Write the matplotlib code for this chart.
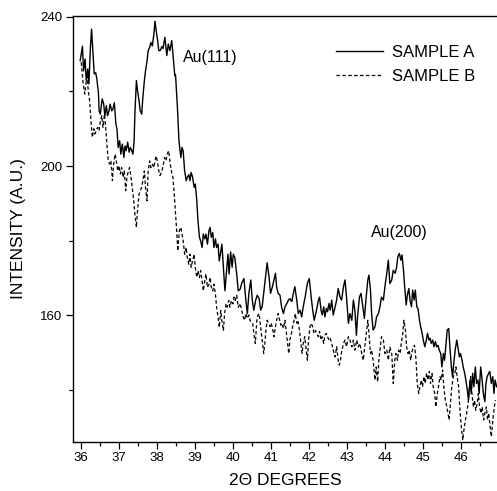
import matplotlib
matplotlib.use("Agg")
import matplotlib.pyplot as plt
from matplotlib.ticker import MultipleLocator

plt.rcParams["font.family"] = ["Liberation Sans", "DejaVu Sans"]

# sample A (solid), 2theta / intensity
a_x = [35.97, 36.03, 36.06, 36.10, 36.13, 36.17, 36.20, 36.24, 36.27, 36.31, 36.34, 36.38,
       36.41, 36.45, 36.47, 36.50, 36.55, 36.59, 36.62, 36.66, 36.69, 36.73, 36.76, 36.80,
       36.83, 36.87, 36.91, 36.94, 36.97, 37.01, 37.04, 37.08, 37.12, 37.15, 37.18, 37.22,
       37.26, 37.29, 37.33, 37.36, 37.39, 37.41, 37.45, 37.48, 37.52, 37.55, 37.59, 37.62,
       37.66, 37.69, 37.73, 37.76, 37.80, 37.83, 37.87, 37.91, 37.94, 37.97, 38.01, 38.04,
       38.08, 38.12, 38.15, 38.20, 38.25, 38.29, 38.33, 38.38, 38.42, 38.46, 38.48, 38.53,
       38.57, 38.62, 38.65, 38.68, 38.72, 38.76, 38.79, 38.83, 38.86, 38.89, 38.93, 38.97,
       39.00, 39.04, 39.07, 39.11, 39.14, 39.18, 39.21, 39.25, 39.28, 39.32, 39.36, 39.39,
       39.42, 39.46, 39.49, 39.53, 39.56, 39.60, 39.63, 39.67, 39.70, 39.74, 39.78, 39.83,
       39.86, 39.89, 39.93, 39.97, 40.00, 40.04, 40.09, 40.13, 40.18, 40.22, 40.28, 40.33,
       40.37, 40.41, 40.46, 40.50, 40.54, 40.59, 40.63, 40.68, 40.72, 40.76, 40.81, 40.85,
       40.89, 40.94, 40.98, 41.03, 41.07, 41.11, 41.14, 41.18, 41.23, 41.27, 41.32, 41.36,
       41.41, 41.45, 41.49, 41.54, 41.58, 41.62, 41.67, 41.71, 41.76, 41.80, 41.84, 41.89,
       41.95, 42.00, 42.05, 42.09, 42.13, 42.19, 42.24, 42.27, 42.31, 42.34, 42.38, 42.41,
       42.45, 42.48, 42.52, 42.55, 42.59, 42.63, 42.68, 42.72, 42.76, 42.81, 42.85, 42.90,
       42.94, 42.98, 43.03, 43.07, 43.12, 43.16, 43.20, 43.24, 43.27, 43.32, 43.36, 43.41,
       43.45, 43.49, 43.54, 43.57, 43.61, 43.64, 43.68, 43.73, 43.77, 43.82, 43.86, 43.90,
       43.95, 43.99, 44.04, 44.08, 44.12, 44.17, 44.21, 44.26, 44.30, 44.33, 44.37, 44.41,
       44.44, 44.48, 44.51, 44.55, 44.58, 44.62, 44.65, 44.69, 44.72, 44.76, 44.79, 44.83,
       44.86, 44.90, 44.93, 44.97, 45.00, 45.04, 45.08, 45.11, 45.15, 45.18, 45.21, 45.25,
       45.28, 45.32, 45.35, 45.39, 45.42, 45.46, 45.49, 45.53, 45.56, 45.60, 45.63, 45.67,
       45.70, 45.74, 45.77, 45.81, 45.84, 45.88, 45.91, 45.95, 45.98, 46.02, 46.05, 46.09,
       46.12, 46.16, 46.19, 46.23, 46.26, 46.30, 46.33, 46.37, 46.40, 46.44, 46.47, 46.51,
       46.54, 46.58, 46.62, 46.65, 46.68, 46.72, 46.75, 46.79, 46.83, 46.86, 46.89, 46.93]
a_y = [228.2, 232.1, 225.5, 228.7, 222.9, 226.0, 222.0, 231.8, 236.7, 230.0, 224.7, 225.0,
       223.3, 219.7, 214.8, 213.9, 218.0, 216.6, 213.5, 216.2, 213.5, 214.8, 216.6, 214.8,
       215.2, 217.0, 211.3, 209.9, 205.0, 206.8, 203.2, 205.9, 202.3, 205.4, 204.1, 206.4,
       203.7, 205.0, 204.1, 203.2, 206.8, 213.9, 222.9, 220.2, 217.5, 214.8, 213.9, 218.4,
       222.9, 225.5, 228.2, 230.9, 231.8, 233.1, 232.2, 235.4, 238.8, 236.3, 233.6, 230.9,
       231.0, 232.0, 231.5, 234.5, 229.6, 232.7, 230.9, 233.6, 229.1, 224.2, 224.5, 215.7,
       206.8, 202.3, 205.0, 204.1, 198.7, 196.1, 197.0, 197.7, 196.1, 198.3, 197.0, 194.3,
       195.2, 190.7, 185.4, 180.9, 180.0, 178.2, 181.8, 180.5, 181.8, 179.1, 182.7, 183.6,
       180.9, 182.2, 178.2, 180.5, 178.2, 179.1, 174.6, 177.0, 179.1, 172.9, 166.6, 172.9,
       176.4, 171.1, 177.0, 172.9, 176.4, 175.5, 171.1, 166.6, 167.0, 168.6, 169.9, 164.1,
       160.5, 165.9, 169.5, 164.1, 161.4, 164.1, 165.4, 164.5, 161.4, 162.3, 166.8, 170.4,
       174.1, 170.4, 165.9, 167.7, 169.5, 171.3, 167.7, 165.9, 165.4, 162.3, 160.5, 162.3,
       163.2, 164.1, 164.5, 163.7, 165.9, 167.7, 164.1, 160.5, 161.4, 159.6, 162.3, 164.9,
       168.6, 169.9, 164.9, 161.4, 158.7, 161.4, 164.1, 164.9, 161.4, 160.1, 162.3, 159.6,
       161.9, 161.0, 163.2, 161.4, 164.1, 160.1, 162.3, 164.1, 167.2, 164.9, 164.1, 167.7,
       169.5, 164.9, 157.9, 160.5, 158.7, 164.1, 161.4, 154.7, 159.6, 164.9, 165.9, 162.3,
       159.2, 164.1, 169.5, 170.8, 166.8, 160.5, 156.1, 157.0, 159.6, 160.5, 162.3, 164.9,
       164.1, 167.7, 171.3, 174.8, 168.5, 169.5, 172.1, 171.3, 173.0, 175.7, 176.6, 174.8,
       176.2, 172.1, 167.7, 162.8, 165.4, 167.2, 164.1, 162.3, 166.8, 164.1, 166.8, 162.3,
       161.9, 158.7, 157.0, 155.2, 153.4, 151.6, 153.4, 155.2, 153.4, 153.9, 152.5, 153.4,
       151.6, 153.0, 151.6, 152.0, 150.7, 149.8, 146.2, 149.8, 148.0, 152.5, 156.1, 156.5,
       151.6, 146.2, 143.6, 148.0, 150.7, 153.4, 151.6, 148.9, 149.8, 148.0, 146.2, 144.5,
       142.7, 140.0, 137.3, 142.7, 139.1, 144.5, 140.9, 146.2, 141.8, 142.7, 139.1, 146.2,
       143.6, 139.1, 136.9, 141.8, 143.6, 144.5, 145.0, 141.8, 143.6, 139.1, 142.7, 140.9]

# sample B (dashed)
b_x = [36.00, 36.04, 36.09, 36.12, 36.15, 36.18, 36.22, 36.26, 36.29, 36.33, 36.36, 36.39,
       36.43, 36.47, 36.50, 36.54, 36.57, 36.61, 36.64, 36.68, 36.71, 36.75, 36.78, 36.82,
       36.85, 36.89, 36.92, 36.96, 36.99, 37.03, 37.06, 37.10, 37.13, 37.17, 37.20, 37.24,
       37.27, 37.31, 37.34, 37.38, 37.41, 37.45, 37.48, 37.52, 37.55, 37.59, 37.62, 37.66,
       37.69, 37.73, 37.76, 37.80, 37.83, 37.87, 37.91, 37.94, 37.97, 38.01, 38.04, 38.07,
       38.12, 38.16, 38.19, 38.23, 38.26, 38.30, 38.33, 38.37, 38.41, 38.44, 38.47, 38.51,
       38.54, 38.58, 38.62, 38.65, 38.68, 38.72, 38.76, 38.79, 38.83, 38.86, 38.89, 38.93,
       38.97, 39.00, 39.04, 39.07, 39.11, 39.14, 39.18, 39.21, 39.25, 39.28, 39.32, 39.36,
       39.39, 39.42, 39.46, 39.49, 39.53, 39.56, 39.60, 39.63, 39.67, 39.70, 39.74, 39.77,
       39.81, 39.84, 39.88, 39.91, 39.95, 39.99, 40.02, 40.05, 40.09, 40.13, 40.18, 40.22,
       40.26, 40.30, 40.33, 40.37, 40.41, 40.44, 40.47, 40.51, 40.54, 40.58, 40.62, 40.65,
       40.68, 40.72, 40.76, 40.80, 40.83, 40.86, 40.89, 40.93, 40.97, 41.00, 41.04, 41.07,
       41.11, 41.14, 41.18, 41.21, 41.25, 41.28, 41.32, 41.36, 41.39, 41.42, 41.46, 41.49,
       41.53, 41.56, 41.60, 41.63, 41.67, 41.70, 41.74, 41.77, 41.81, 41.84, 41.88, 41.91,
       41.95, 41.98, 42.02, 42.05, 42.09, 42.12, 42.16, 42.19, 42.24, 42.27, 42.31, 42.34,
       42.38, 42.41, 42.45, 42.48, 42.52, 42.55, 42.59, 42.63, 42.68, 42.72, 42.76, 42.79,
       42.82, 42.85, 42.90, 42.94, 42.98, 43.03, 43.07, 43.12, 43.16, 43.20, 43.25, 43.29,
       43.33, 43.38, 43.42, 43.46, 43.51, 43.54, 43.57, 43.61, 43.64, 43.68, 43.73, 43.76,
       43.80, 43.83, 43.87, 43.90, 43.95, 43.99, 44.04, 44.08, 44.12, 44.17, 44.21, 44.25,
       44.28, 44.32, 44.35, 44.39, 44.42, 44.46, 44.49, 44.53, 44.56, 44.60, 44.63, 44.67,
       44.70, 44.74, 44.77, 44.81, 44.84, 44.88, 44.91, 44.95, 44.98, 45.02, 45.05, 45.09,
       45.12, 45.16, 45.19, 45.23, 45.26, 45.30, 45.33, 45.37, 45.40, 45.44, 45.47, 45.51,
       45.54, 45.58, 45.62, 45.65, 45.68, 45.72, 45.75, 45.79, 45.83, 45.86, 45.89, 45.93,
       45.96, 46.00, 46.04, 46.07, 46.11, 46.14, 46.18, 46.21, 46.25, 46.28, 46.32, 46.35,
       46.38, 46.42, 46.45, 46.48, 46.52, 46.55, 46.59, 46.62, 46.66, 46.69, 46.72, 46.76,
       46.79, 46.83, 46.87, 46.90]
b_y = [227.8, 222.9, 219.3, 221.7, 224.7, 220.5, 217.5, 211.3, 207.7, 210.0, 208.6, 209.5,
       210.4, 209.5, 212.0, 213.5, 210.4, 213.9, 210.4, 205.0, 201.4, 200.5, 201.4, 196.1,
       200.5, 203.2, 201.4, 198.7, 200.1, 197.9, 199.6, 197.0, 198.7, 193.4, 197.0, 198.7,
       199.6, 197.0, 194.3, 190.7, 187.2, 183.6, 188.1, 192.5, 193.4, 194.3, 196.1, 198.7,
       194.3, 190.7, 198.7, 201.4, 199.6, 200.5, 199.6, 201.4, 202.7, 200.9, 198.7, 197.5,
       198.5, 200.5, 202.3, 201.4, 203.2, 204.1, 201.4, 198.7, 197.0, 193.4, 188.9, 182.7,
       177.3, 182.7, 183.6, 181.8, 180.0, 176.4, 178.2, 175.5, 173.7, 176.4, 172.9, 174.6,
       176.4, 172.9, 170.2, 172.0, 170.2, 172.0, 169.3, 166.6, 169.3, 171.1, 167.5, 168.4,
       170.2, 167.5, 166.6, 168.4, 165.7, 162.2, 159.5, 156.8, 161.3, 158.6, 155.9, 160.4,
       163.1, 162.2, 164.0, 162.2, 164.0, 163.1, 164.9, 164.0, 165.4, 162.2, 163.2, 161.4,
       159.6, 158.7, 160.5, 159.2, 160.1, 158.7, 158.3, 157.9, 155.2, 152.5, 158.7, 160.1,
       160.5, 156.9, 153.4, 149.8, 152.5, 156.1, 158.7, 157.9, 157.0, 157.9, 156.1, 154.3,
       157.0, 158.7, 160.5, 159.2, 157.4, 157.9, 156.5, 158.7, 156.1, 153.4, 149.8, 153.4,
       155.2, 157.0, 158.7, 160.5, 157.9, 158.7, 156.1, 153.4, 149.8, 152.5, 154.3, 151.6,
       148.0, 153.4, 157.0, 157.9, 157.0, 155.2, 156.0, 155.2, 154.3, 155.7, 153.4, 154.3,
       152.5, 154.7, 155.2, 154.3, 153.4, 153.9, 152.5, 150.7, 148.9, 151.6, 148.0, 146.7,
       148.0, 150.2, 152.5, 153.4, 151.6, 154.3, 153.4, 151.6, 153.4, 150.7, 153.4, 151.6,
       152.5, 149.8, 148.0, 151.6, 156.1, 158.7, 155.2, 149.8, 150.7, 148.0, 142.7, 146.2,
       142.2, 148.0, 151.6, 154.3, 153.4, 149.8, 150.7, 148.0, 151.5, 149.8, 141.8, 148.0,
       149.8, 148.0, 150.7, 149.8, 152.5, 155.2, 158.7, 156.1, 151.6, 149.8, 150.7, 148.0,
       150.2, 151.6, 152.0, 148.0, 141.8, 139.1, 140.9, 142.7, 140.9, 143.6, 141.8, 144.5,
       142.7, 145.0, 141.8, 144.5, 140.9, 139.1, 135.5, 139.1, 140.9, 143.6, 142.7, 145.4,
       140.9, 137.3, 135.5, 133.8, 132.0, 137.3, 140.9, 143.6, 144.5, 146.2, 143.6, 140.9,
       135.5, 130.2, 126.6, 129.3, 132.0, 133.8, 136.4, 140.0, 143.6, 139.1, 135.5, 137.3,
       134.6, 136.4, 139.1, 135.5, 133.8, 135.5, 132.0, 133.8, 135.5, 132.0, 133.8, 130.2,
       127.5, 132.0, 135.5, 137.3]

fig = plt.figure(figsize=(4.97, 4.91), dpi=100)
ax = fig.add_axes([0.1469, 0.0998, 0.8531, 0.8676])

ax.plot(a_x, a_y, color="black", lw=1.0, label="SAMPLE A")
ax.plot(b_x, b_y, color="black", lw=0.9, ls=(0, (2.8, 1.9)), label="SAMPLE B")

ax.set_xlim(35.782, 46.94)
ax.set_ylim(126.1, 240.2)
ax.xaxis.set_major_locator(MultipleLocator(1))
ax.xaxis.set_minor_locator(MultipleLocator(0.5))
ax.yaxis.set_major_locator(MultipleLocator(40))
ax.yaxis.set_minor_locator(MultipleLocator(20))
ax.tick_params(which="major", direction="out", length=5, width=0.9, labelsize=9.5, pad=2.5)
ax.tick_params(which="minor", direction="out", length=3, width=0.9)
ax.spines["right"].set_visible(False)
for s in ("left", "bottom", "top"):
    ax.spines[s].set_linewidth(1.0)

ax.set_xlabel("2\u0398 DEGREES", fontsize=12.5, labelpad=6)
ax.set_ylabel("INTENSITY (A.U.)", fontsize=12.5, labelpad=10)

ax.text(38.68, 229.2, "Au(111)", fontsize=11.5, va="center", ha="left")
ax.text(43.62, 182.1, "Au(200)", fontsize=11.5, va="center", ha="left")

ax.legend(loc="upper left", bbox_to_anchor=(0.676, 0.908), bbox_transform=fig.transFigure,
          frameon=False, fontsize=12, handlelength=2.8, handletextpad=0.55,
          labelspacing=0.5, borderpad=0, borderaxespad=0)

fig.savefig("out.png", dpi=100)
